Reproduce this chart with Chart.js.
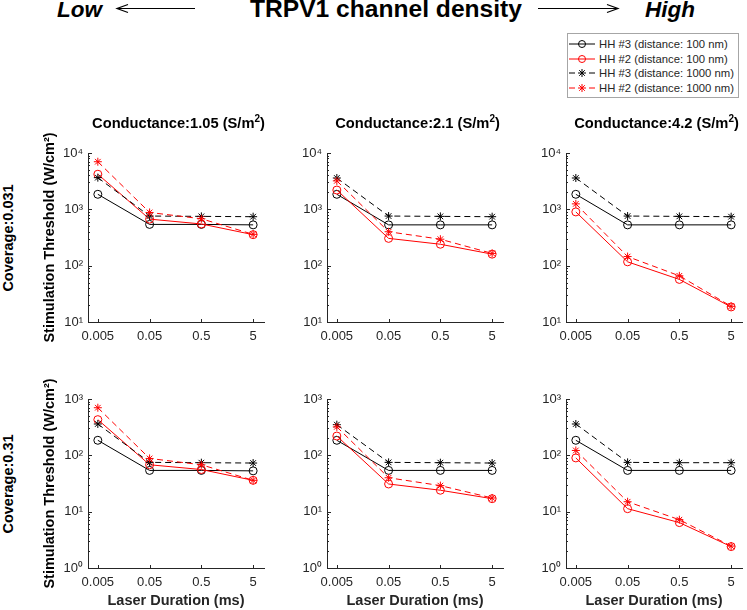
<!DOCTYPE html>
<html lang="en">
<head>
<meta charset="UTF-8">
<title>TRPV1 channel density</title>
<script src="https://cdn.jsdelivr.net/npm/chart.js"></script>
<style>
    body {
        margin: 0;
        width: 747px;
        height: 610px;
        position: relative;
        overflow: hidden;
        background: #fff;
        font-family: "Liberation Sans", Arial, sans-serif;
        color: #000;
    }
    .abs { position: absolute; white-space: nowrap; }
    .big { font-size: 24.6px; font-weight: bold; line-height: normal; }
    .end { font-size: 22.5px; font-weight: bold; font-style: italic; line-height: normal; }
    .ptitle { font-size: 14.7px; font-weight: bold; width: 181px; text-align: center; line-height: 18px; color: #000; }
    .ptitle sup { font-size: 10px; line-height: 0; }
    .rowlab { font-size: 14.5px; font-weight: bold; transform: translate(-50%, -50%) rotate(-90deg); }
    .legend {
        left: 567px; top: 33px; width: 172px; height: 65px;
        box-sizing: border-box; border: 1px solid #a6a6a6; background: #fff;
        padding-top: 2.6px;
    }
    .legend .row { height: 14.7px; display: flex; align-items: center; font-size: 11.3px; color: #262626; }
    .legend svg { margin-left: 1px; margin-right: 2px; }
    canvas { position: absolute; }
</style>
</head>
<body>

<div class="abs end" style="left:57px; top:-2.9px;">Low</div>
<div class="abs big" style="left:186px; width:400px; text-align:center; top:-4.8px;">TRPV1 channel density</div>
<div class="abs end" style="left:645px; top:-2.9px;">High</div>
<svg class="abs" style="left:0; top:0;" width="747" height="20">
    <g stroke="#000" stroke-width="1.2" fill="none">
        <line x1="117" y1="8.5" x2="195" y2="8.5"/>
        <polyline points="128,4.5 117,8.5 128,12.5"/>
        <line x1="538" y1="8.5" x2="618" y2="8.5"/>
        <polyline points="607,4.5 618,8.5 607,12.5"/>
    </g>
</svg>

<div id="legend" class="abs legend"></div>

<script>
    const durationLabels = ['0.005', '0.05', '0.5', '5'];
    const seriesNames = [
        'HH #3 (distance: 100 nm)',
        'HH #2 (distance: 100 nm)',
        'HH #3 (distance: 1000 nm)',
        'HH #2 (distance: 1000 nm)'
    ];
    const conductanceLabels = ['1.05', '2.1', '4.2'];
    const coverageLabels = ['0.031', '0.31'];
    const yTicksTop = [10, 100, 1000, 10000];
    const yTickLabelsTop = ['10¹', '10²', '10³', '10⁴'];
    const yTicksBottom = [1, 10, 100, 1000];
    const yTickLabelsBottom = ['10⁰', '10¹', '10²', '10³'];

    // coverage 0.031
    const hh3_100_c031_g105 = [1850, 540, 540, 530];
    const hh2_100_c031_g105 = [4200, 670, 550, 355];
    const hh3_1000_c031_g105 = [3650, 760, 750, 740];
    const hh2_1000_c031_g105 = [7000, 880, 680, 360];

    const hh3_100_c031_g21 = [1850, 530, 530, 530];
    const hh2_100_c031_g21 = [2200, 305, 240, 160];
    const hh3_1000_c031_g21 = [3600, 760, 750, 740];
    const hh2_1000_c031_g21 = [3200, 400, 295, 165];

    const hh3_100_c031_g42 = [1850, 530, 530, 530];
    const hh2_100_c031_g42 = [900, 117, 57, 18.5];
    const hh3_1000_c031_g42 = [3600, 760, 750, 740];
    const hh2_1000_c031_g42 = [1250, 145, 66, 19];

    // coverage 0.31
    const hh3_100_c31_g105 = [185, 54, 54, 53];
    const hh2_100_c31_g105 = [430, 68, 56, 36];
    const hh3_1000_c31_g105 = [360, 75, 74, 73];
    const hh2_1000_c31_g105 = [700, 88, 68, 36];

    const hh3_100_c31_g21 = [185, 54, 54, 54];
    const hh2_100_c31_g21 = [220, 31, 24, 17];
    const hh3_1000_c31_g21 = [350, 75, 74, 73];
    const hh2_1000_c31_g21 = [320, 40, 29, 17.5];

    const hh3_100_c31_g42 = [185, 54, 54, 54];
    const hh2_100_c31_g42 = [90, 11.3, 6.4, 2.4];
    const hh3_1000_c31_g42 = [360, 75, 74, 74];
    const hh2_1000_c31_g42 = [122, 15, 7.2, 2.45];

    const panelSeries = [
        [
            [hh3_100_c031_g105, hh2_100_c031_g105, hh3_1000_c031_g105, hh2_1000_c031_g105],
            [hh3_100_c031_g21, hh2_100_c031_g21, hh3_1000_c031_g21, hh2_1000_c031_g21],
            [hh3_100_c031_g42, hh2_100_c031_g42, hh3_1000_c031_g42, hh2_1000_c031_g42]
        ],
        [
            [hh3_100_c31_g105, hh2_100_c31_g105, hh3_1000_c31_g105, hh2_1000_c31_g105],
            [hh3_100_c31_g21, hh2_100_c31_g21, hh3_1000_c31_g21, hh2_1000_c31_g21],
            [hh3_100_c31_g42, hh2_100_c31_g42, hh3_1000_c31_g42, hh2_1000_c31_g42]
        ]
    ];

    // look of each series
    const seriesColors = ['#000000', '#ff0000', '#000000', '#ff0000'];
    const seriesMarkers = ['circle', 'circle', 'star', 'star'];
    const seriesDash = [[], [], [6, 4], [6, 4]];

    const axisColor = '#262626';
    Chart.defaults.font.family = "'Liberation Sans', Arial, sans-serif";

    // plot area placement (pixels in the page)
    const areaLeft = [88, 327, 566];
    const areaTop = [153, 399];
    const areaW = 181, areaH = 169, yAxisW = 60, padTop = 30;

    // MATLAB style ticks pointing into the plot
    const inwardTicks = {
        id: 'inwardTicks',
        afterDraw(chart) {
            const {ctx, chartArea: a, scales: {x, y}} = chart;
            ctx.save();
            ctx.strokeStyle = axisColor;
            ctx.lineWidth = 1;
            ctx.beginPath();
            x.ticks.forEach(t => {
                const px = Math.round(x.getPixelForValue(t.value)) + 0.5;
                ctx.moveTo(px, a.bottom);
                ctx.lineTo(px, a.bottom - 3);
            });
            const e0 = Math.round(Math.log10(y.min)), e1 = Math.round(Math.log10(y.max));
            for (let e = e0; e <= e1; e++) {
                for (let k = 1; k <= 9; k++) {
                    if (e === e1 && k > 1) break;
                    const py = Math.round(y.getPixelForValue(k * Math.pow(10, e))) + 0.5;
                    ctx.moveTo(a.left, py);
                    ctx.lineTo(a.left + (k === 1 ? 4 : 2), py);
                }
            }
            ctx.stroke();
            ctx.restore();
        }
    };

    function makePanel(row, col) {
        const xH = row === 0 ? 40 : 42;
        const canvas = document.createElement('canvas');
        canvas.width = yAxisW + areaW;
        canvas.height = padTop + areaH + xH;
        canvas.style.left = (areaLeft[col] - yAxisW) + 'px';
        canvas.style.top = (areaTop[row] - padTop) + 'px';
        document.body.appendChild(canvas);

        const yTicks = row === 0 ? yTicksTop : yTicksBottom;
        const yLabels = row === 0 ? yTickLabelsTop : yTickLabelsBottom;

        const datasets = panelSeries[row][col].map((vals, i) => ({
            label: seriesNames[i],
            data: vals.map((v, j) => ({x: j, y: v})),
            borderColor: seriesColors[i],
            borderWidth: 1,
            borderDash: seriesDash[i],
            pointStyle: seriesMarkers[i],
            pointRadius: 4,
            pointBorderWidth: 1,
            pointBorderColor: seriesColors[i],
            pointBackgroundColor: 'rgba(0,0,0,0)',
            tension: 0,
            fill: false,
            order: 3 - i
        }));

        new Chart(canvas.getContext('2d'), {
            type: 'line',
            data: {datasets},
            options: {
                responsive: false,
                animation: false,
                layout: {padding: {top: padTop, left: 0, right: 0, bottom: 0}},
                plugins: {legend: {display: false}, tooltip: {enabled: false}},
                scales: {
                    x: {
                        type: 'linear',
                        min: -0.19,
                        max: 3.21,
                        grid: {display: false, drawTicks: false},
                        border: {color: axisColor, width: 1},
                        ticks: {
                            padding: 7,
                            color: axisColor,
                            font: {size: 13},
                            callback: v => durationLabels[v]
                        },
                        afterBuildTicks: s => { s.ticks = durationLabels.map((_, i) => ({value: i})); },
                        afterFit: s => { s.height = xH; },
                        title: {
                            display: row === 1,
                            text: 'Laser Duration (ms)',
                            color: axisColor,
                            font: {size: 14.5, weight: 'bold'},
                            padding: {top: 0, bottom: 0}
                        }
                    },
                    y: {
                        type: 'logarithmic',
                        min: yTicks[0],
                        max: yTicks[yTicks.length - 1],
                        grid: {display: false, drawTicks: false},
                        border: {color: axisColor, width: 1},
                        ticks: {
                            padding: 5,
                            color: axisColor,
                            font: {size: 13},
                            callback: (v) => yLabels[yTicks.indexOf(v)]
                        },
                        afterBuildTicks: s => { s.ticks = yTicks.map(v => ({value: v})); },
                        afterFit: s => { s.width = yAxisW; },
                        title: {
                            display: col === 0,
                            text: 'Stimulation Threshold (W/cm²)',
                            color: '#000',
                            font: {size: 14.5, weight: 'bold'},
                            padding: {top: 13, bottom: 0}
                        }
                    }
                }
            },
            plugins: [inwardTicks]
        });

        if (row === 0) {
            const t = document.createElement('div');
            t.className = 'abs ptitle';
            t.style.left = areaLeft[col] + 'px';
            t.style.top = '114px';
            t.innerHTML = 'Conductance:' + conductanceLabels[col] + ' (S/m<sup>2</sup>)';
            document.body.appendChild(t);
        }
    }

    for (let r = 0; r < 2; r++) {
        for (let c = 0; c < 3; c++) makePanel(r, c);
        const lab = document.createElement('div');
        lab.className = 'abs rowlab';
        lab.style.left = '8px';
        lab.style.top = (areaTop[r] + areaH / 2) + 'px';
        lab.textContent = 'Coverage:' + coverageLabels[r];
        document.body.appendChild(lab);
    }

    // legend
    const legend = document.getElementById('legend');
    seriesNames.forEach((name, i) => {
        const c = seriesColors[i];
        const line = seriesDash[i].length
            ? `<line x1="0" y1="6" x2="26" y2="6" stroke="${c}" stroke-dasharray="6,14"/>`
            : `<line x1="0" y1="6" x2="26" y2="6" stroke="${c}"/>`;
        const mark = seriesMarkers[i] === 'circle'
            ? `<circle cx="13" cy="6" r="3.5" fill="none" stroke="${c}"/>`
            : `<path d="M13 2V10M9 6H17M10.2 3.2L15.8 8.8M10.2 8.8L15.8 3.2" stroke="${c}"/>`;
        const row = document.createElement('div');
        row.className = 'row';
        row.innerHTML = `<svg width="28" height="12">${line}${mark}</svg><span>${name}</span>`;
        legend.appendChild(row);
    });
</script>
</body>
</html>
